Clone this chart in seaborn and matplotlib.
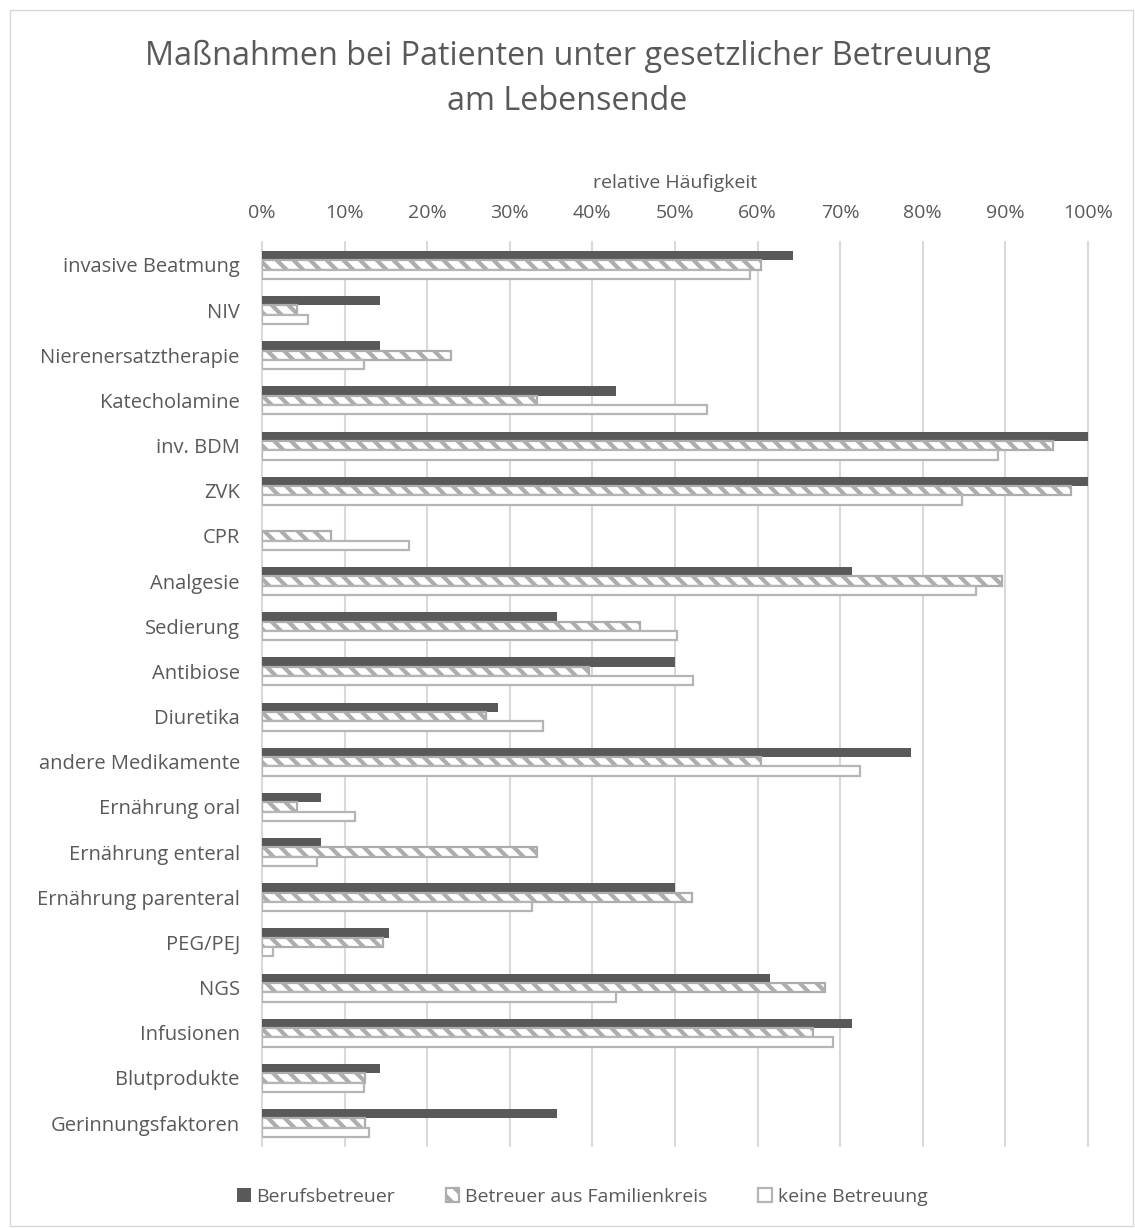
import matplotlib
matplotlib.use("Agg")
import matplotlib.pyplot as plt
import seaborn as sns
import pandas as pd
from matplotlib.ticker import PercentFormatter
from matplotlib.patches import Rectangle

categories = ["invasive Beatmung", "NIV", "Nierenersatztherapie", "Katecholamine",
              "inv. BDM", "ZVK", "CPR", "Analgesie", "Sedierung", "Antibiose",
              "Diuretika", "andere Medikamente", "Ernährung oral", "Ernährung enteral",
              "Ernährung parenteral", "PEG/PEJ", "NGS", "Infusionen", "Blutprodukte",
              "Gerinnungsfaktoren"]
series = ["Berufsbetreuer", "Betreuer aus Familienkreis", "keine Betreuung"]
beruf = [64.3, 14.3, 14.3, 42.9, 100.0, 100.0, 0.0, 71.4, 35.7, 50.0,
         28.6, 78.6, 7.1, 7.1, 50.0, 15.4, 61.5, 71.4, 14.3, 35.7]
familie = [60.4, 4.2, 22.9, 33.3, 95.8, 97.9, 8.3, 89.6, 45.8, 39.6,
           27.1, 60.4, 4.2, 33.3, 52.1, 14.6, 68.2, 66.7, 12.5, 12.5]
keine = [59.1, 5.6, 12.3, 53.9, 89.1, 84.7, 17.8, 86.5, 50.2, 52.2,
         34.0, 72.4, 11.2, 6.6, 32.7, 1.3, 42.8, 69.1, 12.3, 12.9]
title_lines = ["Maßnahmen bei Patienten unter gesetzlicher Betreuung", "am Lebensende"]
x_label = "relative Häufigkeit"

rows = []
for name, vals in zip(series, [beruf, familie, keine]):
    for c, v in zip(categories, vals):
        rows.append({"Kategorie": c, "Gruppe": name, "Wert": v / 100.0})
df = pd.DataFrame(rows)

sns.set_theme(style="white")
plt.rcParams["font.family"] = ["Open Sans", "DejaVu Sans"]
plt.rcParams["hatch.linewidth"] = 3.0
plt.rcParams["hatch.color"] = "#ADADAD"

TXT = "#595959"
fig = plt.figure(figsize=(11.35, 12.28), dpi=100)
ax = fig.add_axes([262 / 1135, 1 - 1145.6 / 1228, (1088 - 262) / 1135, (1145.6 - 242.4) / 1228])

sns.barplot(data=df, y="Kategorie", x="Wert", hue="Gruppe", order=categories,
            hue_order=series, orient="h", width=0.62, ax=ax, legend=False,
            palette=["#595959", "#FFFFFF", "#FFFFFF"], saturation=1)

styles = [
    dict(facecolor="#595959", edgecolor="none", hatch=None, lw=0),
    dict(facecolor="#FFFFFF", edgecolor="#ADADAD", hatch="\\\\", lw=1.6),
    dict(facecolor="#FFFFFF", edgecolor="#B5B5B5", hatch=None, lw=1.6),
]
for cont, st in zip(ax.containers, styles):
    for p in cont:
        p.set_facecolor(st["facecolor"])
        p.set_edgecolor(st["edgecolor"])
        p.set_linewidth(st["lw"])
        if st["hatch"]:
            p.set_hatch(st["hatch"])

ax.set_xlim(0, 1)
ax.set_ylim(len(categories) - 0.5, -0.5)
ax.xaxis.set_major_formatter(PercentFormatter(1.0, decimals=0))
ax.set_xticks([i / 10 for i in range(11)])
ax.xaxis.tick_top()
ax.xaxis.set_label_position("top")
ax.set_xlabel(x_label, fontsize=14, color=TXT, labelpad=11)
ax.set_ylabel("")
ax.tick_params(axis="x", length=0, pad=15, labelsize=14, labelcolor=TXT)
ax.tick_params(axis="y", length=0, pad=16, labelsize=14.5, labelcolor=TXT)
for s in ax.spines.values():
    s.set_visible(False)
ax.grid(axis="x", color="#D9D9D9", linewidth=1.5)
ax.grid(axis="y", visible=False)
ax.set_axisbelow(True)
for gl in ax.get_xgridlines():
    gl.set_clip_on(False)

fig.text(0.5, 1 - 56 / 1228, title_lines[0], ha="center", va="center", fontsize=23.3, color=TXT)
fig.text(0.5, 1 - 101 / 1228, title_lines[1], ha="center", va="center", fontsize=23.3, color=TXT)

handles = [ax.containers[i][0] for i in range(3)]
leg = fig.legend(handles, series, loc="center", bbox_to_anchor=(0.513, 1 - 1197 / 1228),
                 ncol=3, frameon=False, fontsize=14, handlelength=0.7, handleheight=0.7,
                 handletextpad=0.3, columnspacing=2.6, labelcolor=TXT)

fig.patches.append(Rectangle((10 / 1135, 1 - 1226 / 1228), 1123 / 1135, 1216 / 1228,
                             transform=fig.transFigure, fill=False, edgecolor="#D9D9D9", lw=1))

fig.savefig("out.png", dpi=100)
